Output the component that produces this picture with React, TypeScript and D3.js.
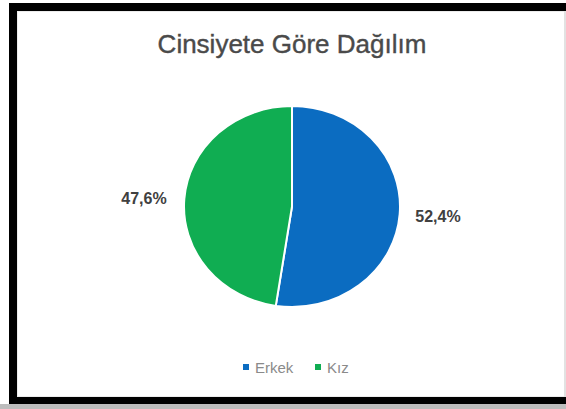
import React from "react";
import * as d3 from "d3";

const categories = ["Erkek", "Kız"];
const values = [52.4, 47.6];
const labels = ["52,4%", "47,6%"];
const colors = ["#0b6cc1", "#10ad52"];
const title = "Cinsiyete Göre Dağılım";

export default function App() {
  const W = 566, H = 409;
  const cx = 292, cy = 206.5, r = 108;
  const pie = d3.pie<number>().sort(null).value((d) => d);
  const arcs = pie(values);
  const arcGen = d3.arc<d3.PieArcDatum<number>>().innerRadius(0).outerRadius(r);
  const labelPos = [
    { x: 438, y: 222 },
    { x: 144, y: 204 },
  ];
  const legendX = d3.scalePoint<string>().domain(categories).range([243, 315]);
  return (
    <svg width={W} height={H} style={{ position: "absolute", left: 0, top: 0, display: "block" }}>
      <rect x={0} y={0} width={W} height={H} fill="#ffffff" />
      <rect x={0} y={404} width={W} height={5} fill="#bdbdbd" />
      <path d={`M9,3H${W}V11H17V397H${W}V404H9Z`} fill="#000000" />
      <rect x={17.5} y={11.5} width={W} height={385} fill="none" stroke="#ececec" strokeWidth={1} />
      <rect x={564} y={11} width={2} height={386} fill="#e2e2e2" />
      <text x={292} y={53} textAnchor="middle" fontFamily="Liberation Sans, Arial, sans-serif" fontSize={26} fill="#4a4a4a" stroke="#4a4a4a" strokeWidth={0.4}>
        {title}
      </text>
      <g transform={`translate(${cx},${cy}) scale(1,0.93)`}>
        {arcs.map((a, i) => (
          <path key={i} d={arcGen(a) || ""} fill={colors[i]} stroke="#ffffff" strokeWidth={2} />
        ))}
      </g>
      {labels.map((l, i) => (
        <text key={i} x={labelPos[i].x} y={labelPos[i].y} textAnchor="middle" fontFamily="Liberation Sans, Arial, sans-serif" fontSize={16} fontWeight="bold" fill="#404040">
          {l}
        </text>
      ))}
      {categories.map((c, i) => (
        <g key={c} transform={`translate(${legendX(c)},367)`}>
          <rect x={0} y={-3} width={6} height={6} fill={colors[i]} />
          <text x={12} y={5.5} fontFamily="Liberation Sans, Arial, sans-serif" fontSize={15} fill="#8a8a8a">
            {c}
          </text>
        </g>
      ))}
    </svg>
  );
}
